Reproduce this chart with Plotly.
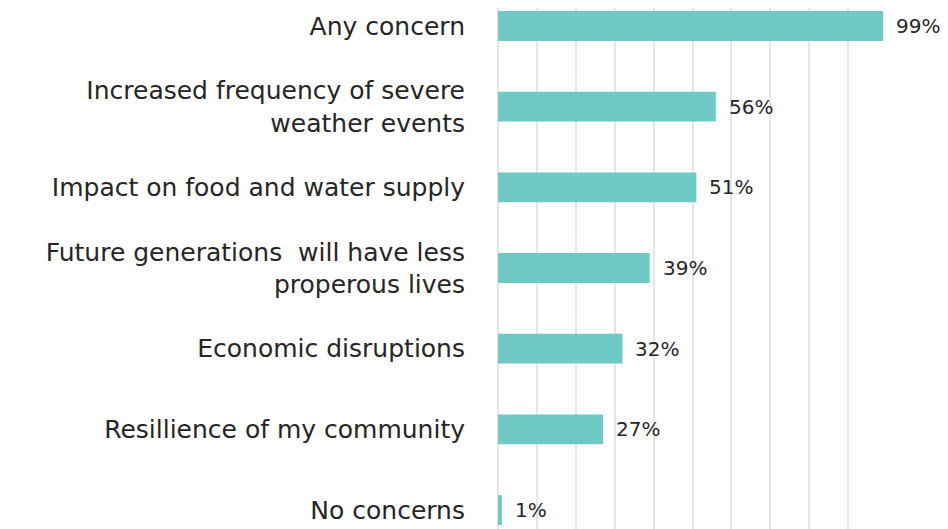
import plotly.graph_objects as go

# Concerns about climate change, share of respondents
categories = [
    "Any concern",
    "Increased frequency of severe<br>weather events",
    "Impact on food and water supply",
    "Future generations  will have less<br>properous lives",
    "Economic disruptions",
    "Resillience of my community",
    "No concerns",
]
values = [99, 56, 51, 39, 32, 27, 1]

BAR = "#6fcac6"
FONT = "DejaVu Sans, sans-serif"

positions = list(range(len(categories)))

fig = go.Figure(go.Bar(
    x=values, y=positions, orientation="h",
    marker=dict(color=BAR, line=dict(width=0)),
    width=0.37,
    hoverinfo="skip",
))

for v, p in zip(values, positions):
    fig.add_annotation(
        x=v, y=p, text=f"{v}%", showarrow=False,
        xanchor="left", xshift=12, borderpad=0,
        font=dict(family=FONT, size=20, color="#262626"),
    )

fig.update_xaxes(
    range=[0, 100], dtick=10, showgrid=True, gridcolor="#e6e6e6", gridwidth=1.5,
    showticklabels=False, zeroline=True, zerolinecolor="#e6e6e6", zerolinewidth=1.5,
    fixedrange=True,
)
fig.update_yaxes(
    range=[6.235, -0.223], tickvals=positions, ticktext=categories,
    showgrid=False, zeroline=False, ticklabelstandoff=32,
    tickfont=dict(family=FONT, size=25, color="#262626"),
)
fig.update_layout(
    width=940, height=521,
    margin=dict(l=490, r=61, t=0, b=0, autoexpand=False),
    plot_bgcolor="white", paper_bgcolor="white",
    showlegend=False,
    font=dict(family=FONT),
)

fig.write_html("out.html")
